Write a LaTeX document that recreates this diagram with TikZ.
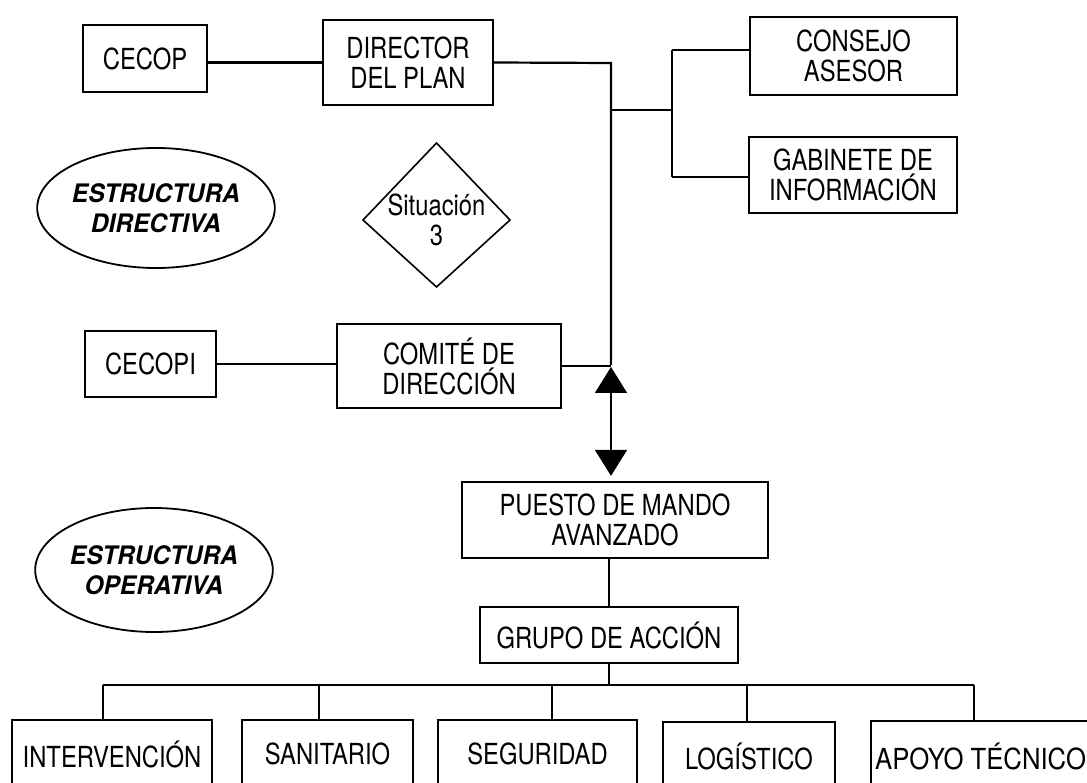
\documentclass[tikz,border=0pt]{standalone}
\usepackage{fontspec}
\setmainfont{TeX Gyre Heros}[FakeStretch=0.82]
\newfontfamily\ellfont{TeX Gyre Heros}[FakeStretch=0.96]
\usetikzlibrary{shapes.geometric,arrows.meta,calc}
\begin{document}
\begin{tikzpicture}[x=1pt,y=-1pt,
  box/.style={draw,line width=2.3pt,rectangle,inner sep=0pt,align=center,
    font=\fontsize{29}{30}\selectfont},
  ell/.style={draw,line width=1.8pt,ellipse,inner sep=0pt,align=center,
    minimum width=228pt,font=\ellfont\bfseries\itshape\fontsize{25.5}{30}\selectfont},
  conn/.style={line width=2.2pt},
  bigtip/.tip={Triangle[length=26pt,width=32pt]}]
\clip (0,0) rectangle (1087,783);
\fill[white] (0,0) rectangle (1087,783);
% directive structure
\node[box,minimum width=124pt,minimum height=67pt] (cecop) at (145,58.5) {CECOP};
\node[box,minimum width=170pt,minimum height=85pt] (director) at (408,62.5) {DIRECTOR\\DEL PLAN};
\node[box,minimum width=207pt,minimum height=78pt] (consejo) at (853.5,56) {CONSEJO\\ASESOR};
\node[box,minimum width=208pt,minimum height=76pt] (gabinete) at (853,175) {GABINETE DE\\INFORMACIÓN};
\node[ell,minimum height=120pt] (edir) at (156,208) {ESTRUCTURA\\DIRECTIVA};
\node[align=center,font=\fontsize{29}{30}\selectfont] (sit) at (436.5,220) {Situación\\3};
\draw[line width=1.6pt] ($(sit.center)+(0,-77)$) -- ($(sit.center)+(73.5,0)$)
  -- ($(sit.center)+(0,67)$) -- ($(sit.center)+(-73.5,0)$) -- cycle;
\node[box,minimum width=131pt,minimum height=66pt] (cecopi) at (150.5,364) {CECOPI};
\node[box,minimum width=224pt,minimum height=84pt] (comite) at (449,366) {COMITÉ DE\\DIRECCIÓN};
% operative structure
\node[box,minimum width=306pt,minimum height=76pt] (puesto) at (615,520) {PUESTO DE MANDO\\AVANZADO};
\node[ell,minimum height=124pt] (eop) at (154,570) {ESTRUCTURA\\OPERATIVA};
\node[box,minimum width=258pt,minimum height=56pt] (grupo) at (609,635) {GRUPO DE ACCIÓN};
\node[box,minimum width=200pt,minimum height=68pt] (interv) at (112,754) {INTERVENCIÓN};
\node[box,minimum width=171pt,minimum height=68pt] (sanit) at (327.5,754) {SANITARIO};
\node[box,minimum width=199pt,minimum height=68pt] (segur) at (537.5,754) {SEGURIDAD};
\node[box,minimum width=172pt,minimum height=68pt] (logis) at (749,756) {LOGÍSTICO};
\node[box,draw=none,anchor=west,inner xsep=3pt,minimum height=68pt] (apoyo) at (871,756) {\scalebox{1.08}[1]{APOYO TÉCNICO}};
\draw[line width=2.3pt] (apoyo.south west) -- (apoyo.north west) -- ++(240,0);
% junction coordinates
\coordinate (j1) at (611,63);
\coordinate (j2) at (611,365);
\coordinate (j3) at (611,110);
\coordinate (j4) at (672,110);
\coordinate (j5) at (672,50);
\coordinate (j6) at (672,177);
\coordinate (d1) at (103,685);
\coordinate (d2) at (319,685);
\coordinate (d3) at (552,685);
\coordinate (d4) at (747,685);
\coordinate (d5) at (974,685);
% connectors
\draw[conn] (director.west) -- (director.west -| cecop.east);
\draw[conn] (director.east) -- (j1) -- (j2);
\draw[conn] (comite.east) -- (comite.east -| j2);
\draw[conn] (cecopi.east) -- (cecopi.east -| comite.west);
\draw[conn] (j3) -- (j4);
\draw[conn] (j5) -- (j6);
\draw[conn] (j5) -- (j5 -| consejo.west);
\draw[conn] (j6) -- (j6 -| gabinete.west);
\draw[line width=1.6pt,bigtip-bigtip,shorten <=2pt,shorten >=5pt] (j2) -- (j2 |- puesto.north);
\draw[conn] (grupo.north) -- (grupo.north |- puesto.south);
\draw[conn] (grupo.south) -- (grupo.south |- d1);
\draw[conn] (d1) -- (d5);
\draw[conn] (d1) -- (d1 |- interv.north);
\draw[conn] (d2) -- (d2 |- sanit.north);
\draw[conn] (d3) -- (d3 |- segur.north);
\draw[conn] (d4) -- (d4 |- logis.north);
\draw[conn] (d5) -- (d5 |- apoyo.north);
\end{tikzpicture}
\end{document}
